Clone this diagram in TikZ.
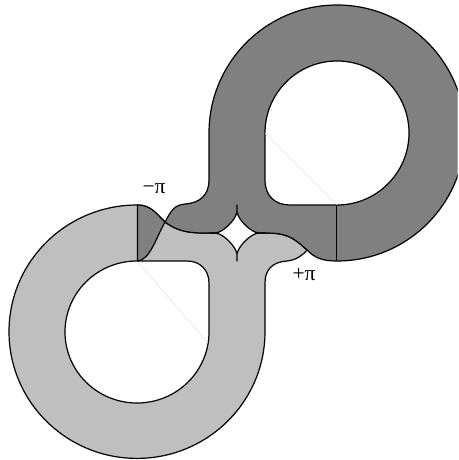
\documentclass[tikz,border=0pt]{standalone}
\usepackage{fontspec}
\setmainfont{Liberation Serif}
\tikzset{
  edgeline/.style={draw=black,line width=1.2pt,line join=round},
  lightpart/.style={edgeline,fill=lightfill},
  darkpart/.style={edgeline,fill=darkfill},
  holepart/.style={edgeline,fill=white},
  faint/.style={draw=black!12,line width=0.5pt},
  lab/.style={font=\fontsize{21.5}{21.5}\selectfont,inner sep=0pt}
}
\definecolor{lightfill}{gray}{0.75}
\definecolor{darkfill}{gray}{0.5}
\begin{document}
\begin{tikzpicture}[x=1pt,y=-1pt]
\useasboundingbox (0,0) rectangle (458,460);
\begin{scope}
\clip (0,0) rectangle (457.5,460);
% light ring
\path[lightpart] (137,205) arc[start angle=-90,end angle=-180,x radius=128,y radius=126.7]
  arc[start angle=180,end angle=0,x radius=128,y radius=126.7]
  -- (265,283) .. controls (265,270) and (272,262) .. (287,261)
  .. controls (296,260) and (302,256) .. (307,250)
  .. controls (292,236) and (285,233) .. (265,233)
  -- (209,233) .. controls (192,233) and (180,233) .. (165,222)
  .. controls (155,212) and (150,205) .. (137,205) -- cycle;
% holes
\path[holepart] (137,261) -- (187,261) .. controls (200,261) and (209,270) .. (209,283)
  -- (209,332) arc[start angle=0,end angle=270,x radius=72,y radius=71] -- cycle;
\draw[faint] (137,261) -- (208,343);
% dark ring
\path[darkpart] (337,261) arc[start angle=90,end angle=-180,radius=128]
  -- (209,180) .. controls (209,195) and (200,203) .. (185,204)
  .. controls (174,205) and (171,211) .. (165,222)
  .. controls (156,238) and (150,260) .. (137.5,261) -- (137.5,205)
  .. controls (150,205) and (155,212) .. (165,222)
  .. controls (180,233) and (192,233) .. (209,233)
  -- (265,233) .. controls (285,233) and (292,236) .. (307,250)
  .. controls (315,258) and (322,261) .. (337,261) -- cycle;
\path[holepart] (337,205) -- (290,205) .. controls (275,205) and (265,196) .. (265,180)
  -- (265,133) arc[start angle=180,end angle=450,radius=72] -- cycle;
\draw[faint] (265,133) -- (337,205);
% divide
\draw[edgeline] (336.5,205) -- (336.5,261);
% star
\path[edgeline,fill=white] (237,205) -- (237,212)
  .. controls (238.5,220) and (250,231.5) .. (258,233) -- (265,233) -- (258,233)
  .. controls (250,234.5) and (238.5,246) .. (237,254) -- (237,261) -- (237,254)
  .. controls (235.5,246) and (224,234.5) .. (216,233) -- (209,233) -- (216,233)
  .. controls (224,231.5) and (235.5,220) .. (237,212) -- cycle;
\end{scope}
\node[lab] (m) at (154,189) {−π};
\node[lab] (p) at (304,275) {+π};
\end{tikzpicture}
\end{document}
